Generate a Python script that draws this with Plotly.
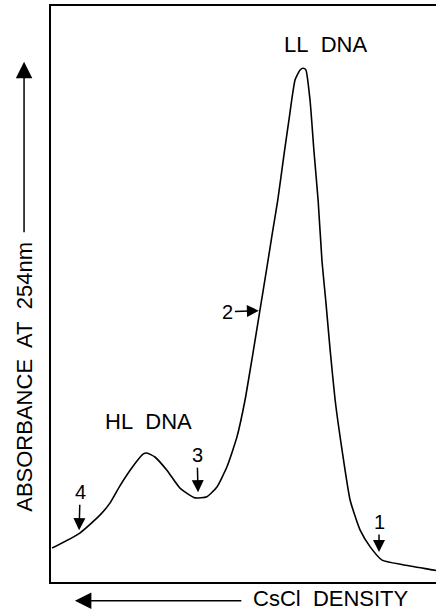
import plotly.graph_objects as go

# Relative position along the gradient (0 = left edge of frame, 100 = right edge)
position = [0.3, 7.5, 12.7, 15.3, 17.9, 21.3, 23.9, 24.9, 27.0, 30.1, 33.5, 37.4,
            40.5, 43.1, 45.7, 48.3, 50.4, 52.3, 54.2, 56.1, 57.5, 58.9, 60.5, 61.8,
            63.4, 64.7, 65.5, 66.2, 67.3, 68.3, 69.4, 70.4, 71.4, 72.5, 73.8, 75.6,
            77.7, 80.3, 82.9, 86.0, 91.4, 99.2, 100.0]
# Absorbance at 254 nm (relative units, 0 = baseline of frame, 100 = top of frame)
absorbance = [5.9, 8.5, 11.6, 13.7, 16.7, 20.1, 22.2, 22.4, 21.7, 19.4, 16.3, 14.6,
              14.8, 16.5, 20.0, 25.2, 31.6, 39.1, 46.9, 54.7, 60.6, 66.3, 74.1, 80.2,
              87.2, 88.9, 89.2, 88.9, 83.5, 74.8, 66.1, 55.6, 48.6, 40.3, 31.6, 22.9,
              14.2, 9.0, 6.1, 3.8, 3.0, 2.1, 2.0]

peak_labels = ["LL\u00a0 DNA", "HL\u00a0 DNA"]
peak_label_pos = [(71.4, 93.4), (25.2, 27.8)]

fraction_labels = ["1", "2", "3", "4"]
fraction_tips = [(85.2, 5.2), (54.0, 47.1), (38.2, 15.6), (7.3, 9.0)]
fraction_offsets = [(0, -30), (-31, 1), (-1, -37), (1, -38)]

FONT = "Liberation Sans, Arial, Helvetica, sans-serif"

fig = go.Figure()
fig.add_trace(go.Scatter(
    x=position, y=absorbance, mode="lines",
    line=dict(color="black", width=1.6, shape="spline", smoothing=0.5),
    hoverinfo="skip", showlegend=False))

annotations = []
for txt, (px, py) in zip(peak_labels, peak_label_pos):
    annotations.append(dict(x=px, y=py, xref="x", yref="y", text=txt, showarrow=False,
                            xanchor="center", yanchor="middle",
                            font=dict(family=FONT, size=22, color="black")))

for txt, (tx, ty), (ax, ay) in zip(fraction_labels, fraction_tips, fraction_offsets):
    annotations.append(dict(x=tx, y=ty, xref="x", yref="y", text=txt, showarrow=True,
                            ax=ax, ay=ay, arrowhead=2, arrowsize=1.6, arrowwidth=1.5,
                            arrowcolor="black", standoff=0, startstandoff=0,
                            font=dict(family=FONT, size=20, color="black")))

# Axis titles with arrows (outside the frame)
annotations.append(dict(x=-0.068, y=0.356, xref="paper", yref="paper",
                        xanchor="center", yanchor="middle",
                        text="ABSORBANCE\u00a0 AT\u00a0 254nm", textangle=-90, showarrow=False,
                        font=dict(family=FONT, size=22, color="black")))
annotations.append(dict(x=-0.070, y=0.903, xref="paper", yref="paper", text="",
                        showarrow=True, ax=0, ay=172, arrowhead=2, arrowsize=2.2,
                        arrowwidth=1.5, arrowcolor="black", standoff=0))
annotations.append(dict(x=0.727, y=-0.0295, xref="paper", yref="paper",
                        xanchor="center", yanchor="middle",
                        text="CsCl\u00a0 DENSITY", showarrow=False,
                        font=dict(family=FONT, size=22, color="black")))
annotations.append(dict(x=0.062, y=-0.0325, xref="paper", yref="paper", text="",
                        showarrow=True, ax=168, ay=0, arrowhead=2, arrowsize=2.2,
                        arrowwidth=1.5, arrowcolor="black", standoff=0))

fig.update_layout(
    width=436, height=613,
    margin=dict(l=51, r=0, t=6, b=31),
    paper_bgcolor="white", plot_bgcolor="white",
    annotations=annotations,
    xaxis=dict(range=[0, 100], showgrid=False, zeroline=False, showticklabels=False,
               ticks="", showline=True, linecolor="black", linewidth=1.5, mirror=True,
               fixedrange=True),
    yaxis=dict(range=[0, 100], showgrid=False, zeroline=False, showticklabels=False,
               ticks="", showline=True, linecolor="black", linewidth=1.5, mirror=False,
               fixedrange=True),
)

fig.write_html(
    "out.html",
    config={"displayModeBar": False},
    post_script="document.body.style.margin='0';document.documentElement.style.overflow='hidden';",
)
